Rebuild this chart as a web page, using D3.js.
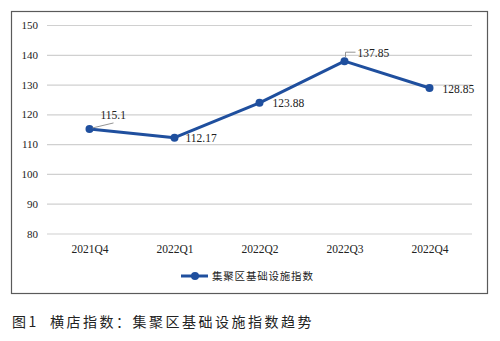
<!DOCTYPE html>
<html><head><meta charset="utf-8">
<script src="https://cdn.jsdelivr.net/npm/d3@7"></script>
<style>body{margin:0;background:#fff}svg{display:block}</style>
</head><body>
<svg id="c" width="500" height="341"></svg>
<script>
const categories = ["2021Q4","2022Q1","2022Q2","2022Q3","2022Q4"];
const values = [115.1,112.17,123.88,137.85,128.85];
const valueLabels = ["115.1","112.17","123.88","137.85","128.85"];
const yTicks = [80,90,100,110,120,130,140,150];
const seriesName = "集聚区基础设施指数";
const caption = "图1  横店指数：集聚区基础设施指数趋势";

const svg = d3.select("#c");
const serif = "'Liberation Serif','Times New Roman',serif";
const cjk = "'Noto Sans CJK SC',sans-serif";
const blue = "#1f4f9e";

svg.append("rect").attr("x",11.5).attr("y",11.5).attr("width",476).attr("height",282)
  .attr("fill","#fff").attr("stroke","#5a5a5a").attr("stroke-width",1.2);

const x = d3.scalePoint().domain(categories).range([47,472]).padding(0.5);
const y = d3.scaleLinear().domain([80,150]).range([233.5,25]);

const gy = svg.append("g").attr("transform","translate(47,0)")
  .call(d3.axisLeft(y).tickValues(yTicks).tickSize(-425).tickPadding(9));
gy.select(".domain").remove();
gy.selectAll(".tick line").attr("stroke","#d0d0d0").attr("stroke-width",1.2);
gy.selectAll(".tick text").attr("font-family",serif).attr("font-size",11).attr("fill","#222");

const gx = svg.append("g").attr("transform","translate(0,233.5)")
  .call(d3.axisBottom(x).tickSize(0).tickPadding(11));
gx.select(".domain").remove();
gx.selectAll(".tick text").attr("font-family",serif).attr("font-size",11.5).attr("fill","#222");

const line = d3.line().x((d,i)=>x(categories[i])).y(d=>y(d));
svg.append("path").datum(values).attr("d",line).attr("fill","none")
  .attr("stroke",blue).attr("stroke-width",3).attr("stroke-linejoin","round");
svg.selectAll("circle.pt").data(values).join("circle").attr("class","pt")
  .attr("cx",(d,i)=>x(categories[i])).attr("cy",d=>y(d)).attr("r",4).attr("fill",blue);

// data labels
const offs = [[11,-14],[11,0],[13,0],[13,-8],[13,0.5]];
svg.selectAll("text.lbl").data(values).join("text").attr("class","lbl")
  .attr("x",(d,i)=>x(categories[i])+offs[i][0])
  .attr("y",(d,i)=>y(d)+offs[i][1]).attr("dy","0.35em")
  .attr("font-family",serif).attr("font-size",11.5).attr("fill","#222")
  .text((d,i)=>valueLabels[i]);
// leader lines
const p0x = x(categories[0]), p0y = y(values[0]);
svg.append("line").attr("x1",p0x+3).attr("y1",p0y-1).attr("x2",p0x+24).attr("y2",p0y-6)
  .attr("stroke","#888").attr("stroke-width",0.9);
const p3x = x(categories[3]), p3y = y(values[3]);
svg.append("path").attr("d",`M${p3x+1},${p3y-4}V${p3y-9}H${p3x+11}`)
  .attr("fill","none").attr("stroke","#888").attr("stroke-width",0.9);

// legend
const lg = svg.append("g").attr("transform","translate(181,276)");
lg.append("line").attr("x1",0).attr("x2",27).attr("y1",0).attr("y2",0).attr("stroke",blue).attr("stroke-width",3);
lg.append("circle").attr("cx",14).attr("cy",0).attr("r",4).attr("fill",blue);
lg.append("text").attr("x",31).attr("y",0).attr("dy","0.35em").attr("font-family",cjk)
  .attr("font-size",10.5).attr("letter-spacing",0.8).attr("fill","#222").text(seriesName);

svg.append("text").attr("x",12).attr("y",322).attr("dy","0.35em").attr("font-family",cjk)
  .attr("font-size",14).attr("letter-spacing",2.5).attr("fill","#222").attr("xml:space","preserve").text(caption);
</script>
</body></html>
